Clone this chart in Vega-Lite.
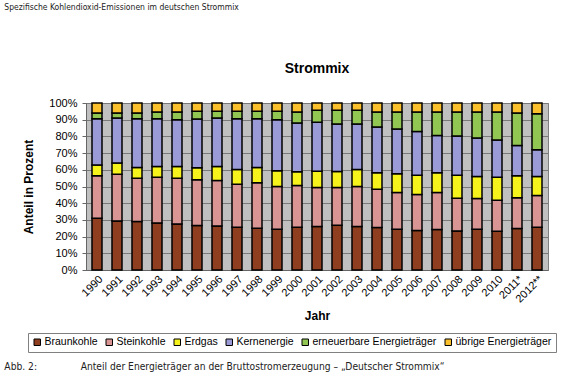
{
  "$schema": "https://vega.github.io/schema/vega-lite/v6.json",
  "background": "white",
  "padding": {"left": 4, "top": 3, "right": 5, "bottom": 4},
  "title": {
    "text": "Spezifische Kohlendioxid-Emissionen im deutschen Strommix",
    "anchor": "start",
    "font": "DejaVu Sans Condensed, sans-serif",
    "fontSize": 8.5,
    "fontWeight": "normal",
    "color": "#222222",
    "dx": 0,
    "offset": 50
  },
  "resolve": {"scale": {"color": "independent"}, "legend": {"color": "independent"}},
  "vconcat": [
    {
      "title": {
        "text": "Abb. 2:\u00a0\u00a0\u00a0\u00a0\u00a0\u00a0\u00a0\u00a0\u00a0\u00a0\u00a0\u00a0\u00a0\u00a0\u00a0Anteil der Energieträger an der Bruttostromerzeugung – „Deutscher Strommix“",
        "orient": "bottom",
        "anchor": "start",
        "font": "DejaVu Sans Condensed, sans-serif",
        "fontSize": 10.2,
        "fontWeight": "normal",
        "color": "#222222",
        "dx": -18,
        "offset": 9
      },
      "resolve": {"scale": {"color": "independent"}, "legend": {"color": "independent"}},
      "vconcat": [
        {
          "title": {
            "text": "Strommix",
            "anchor": "middle",
            "font": "Liberation Sans",
            "fontSize": 14,
            "fontWeight": "bold",
            "color": "black",
            "offset": 21
          },
          "width": 462,
          "height": 167,
          "data": {
            "values": [
              {"Jahr": "1990", "Braunkohle": 31.0, "Steinkohle": 25.4, "Erdgas": 6.4, "Kernenergie": 27.8, "erneuerbare Energieträger": 3.4, "übrige Energieträger": 6.0},
              {"Jahr": "1991", "Braunkohle": 29.4, "Steinkohle": 28.0, "Erdgas": 6.6, "Kernenergie": 27.0, "erneuerbare Energieträger": 3.0, "übrige Energieträger": 6.0},
              {"Jahr": "1992", "Braunkohle": 29.0, "Steinkohle": 26.0, "Erdgas": 6.4, "Kernenergie": 29.2, "erneuerbare Energieträger": 3.4, "übrige Energieträger": 6.0},
              {"Jahr": "1993", "Braunkohle": 28.2, "Steinkohle": 27.4, "Erdgas": 6.4, "Kernenergie": 28.6, "erneuerbare Energieträger": 4.0, "übrige Energieträger": 5.4},
              {"Jahr": "1994", "Braunkohle": 27.6, "Steinkohle": 27.4, "Erdgas": 7.0, "Kernenergie": 28.0, "erneuerbare Energieträger": 4.6, "übrige Energieträger": 5.4},
              {"Jahr": "1995", "Braunkohle": 26.6, "Steinkohle": 27.4, "Erdgas": 7.2, "Kernenergie": 29.2, "erneuerbare Energieträger": 4.6, "übrige Energieträger": 5.0},
              {"Jahr": "1996", "Braunkohle": 26.4, "Steinkohle": 27.2, "Erdgas": 8.4, "Kernenergie": 29.0, "erneuerbare Energieträger": 4.0, "übrige Energieträger": 5.0},
              {"Jahr": "1997", "Braunkohle": 25.6, "Steinkohle": 25.8, "Erdgas": 8.8, "Kernenergie": 30.4, "erneuerbare Energieträger": 4.4, "übrige Energieträger": 5.0},
              {"Jahr": "1998", "Braunkohle": 25.0, "Steinkohle": 27.2, "Erdgas": 9.2, "Kernenergie": 29.2, "erneuerbare Energieträger": 4.4, "übrige Energieträger": 5.0},
              {"Jahr": "1999", "Braunkohle": 24.4, "Steinkohle": 25.6, "Erdgas": 9.4, "Kernenergie": 30.6, "erneuerbare Energieträger": 5.0, "übrige Energieträger": 5.0},
              {"Jahr": "2000", "Braunkohle": 25.6, "Steinkohle": 25.0, "Erdgas": 8.2, "Kernenergie": 29.2, "erneuerbare Energieträger": 6.6, "übrige Energieträger": 5.4},
              {"Jahr": "2001", "Braunkohle": 26.0, "Steinkohle": 23.4, "Erdgas": 9.8, "Kernenergie": 29.2, "erneuerbare Energieträger": 7.2, "übrige Energieträger": 4.4},
              {"Jahr": "2002", "Braunkohle": 26.8, "Steinkohle": 22.6, "Erdgas": 9.6, "Kernenergie": 28.4, "erneuerbare Energieträger": 8.2, "übrige Energieträger": 4.4},
              {"Jahr": "2003", "Braunkohle": 26.0, "Steinkohle": 24.0, "Erdgas": 10.2, "Kernenergie": 27.2, "erneuerbare Energieträger": 8.2, "übrige Energieträger": 4.4},
              {"Jahr": "2004", "Braunkohle": 25.4, "Steinkohle": 23.0, "Erdgas": 9.8, "Kernenergie": 27.4, "erneuerbare Energieträger": 9.0, "übrige Energieträger": 5.4},
              {"Jahr": "2005", "Braunkohle": 24.4, "Steinkohle": 22.0, "Erdgas": 11.2, "Kernenergie": 26.8, "erneuerbare Energieträger": 10.2, "übrige Energieträger": 5.4},
              {"Jahr": "2006", "Braunkohle": 23.6, "Steinkohle": 21.6, "Erdgas": 11.6, "Kernenergie": 26.2, "erneuerbare Energieträger": 11.6, "übrige Energieträger": 5.4},
              {"Jahr": "2007", "Braunkohle": 24.2, "Steinkohle": 22.2, "Erdgas": 11.8, "Kernenergie": 22.4, "erneuerbare Energieträger": 14.0, "übrige Energieträger": 5.4},
              {"Jahr": "2008", "Braunkohle": 23.4, "Steinkohle": 19.6, "Erdgas": 13.8, "Kernenergie": 23.4, "erneuerbare Energieträger": 14.4, "übrige Energieträger": 5.4},
              {"Jahr": "2009", "Braunkohle": 24.4, "Steinkohle": 18.4, "Erdgas": 13.2, "Kernenergie": 23.0, "erneuerbare Energieträger": 15.6, "übrige Energieträger": 5.4},
              {"Jahr": "2010", "Braunkohle": 23.2, "Steinkohle": 18.6, "Erdgas": 13.8, "Kernenergie": 22.2, "erneuerbare Energieträger": 16.8, "übrige Energieträger": 5.4},
              {"Jahr": "2011*", "Braunkohle": 24.8, "Steinkohle": 18.4, "Erdgas": 13.2, "Kernenergie": 18.2, "erneuerbare Energieträger": 19.4, "übrige Energieträger": 6.0},
              {"Jahr": "2012**", "Braunkohle": 25.6, "Steinkohle": 19.0, "Erdgas": 11.4, "Kernenergie": 16.0, "erneuerbare Energieträger": 21.6, "übrige Energieträger": 6.4}
            ]
          },
          "transform": [
            {"fold": ["Braunkohle", "Steinkohle", "Erdgas", "Kernenergie", "erneuerbare Energieträger", "übrige Energieträger"], "as": ["Energietraeger", "Anteil"]},
            {"window": [{"op": "row_number", "as": "Rang"}], "groupby": ["Jahr"]}
          ],
          "mark": {"type": "bar", "stroke": "black", "strokeWidth": 1.5},
          "encoding": {
            "x": {
              "field": "Jahr",
              "type": "ordinal",
              "sort": null,
              "scale": {"paddingInner": 0.5, "paddingOuter": 0.3},
              "axis": {
                "title": "Jahr",
                "labelAngle": -45,
                "labelFontSize": 11,
                "labelColor": "black",
                "labelPadding": 3,
                "titleFontSize": 12,
                "titleFontWeight": "bold",
                "titleColor": "black",
                "titlePadding": 6,
                "domainColor": "#666666",
                "ticks": false,
                "grid": false
              }
            },
            "y": {
              "field": "Anteil",
              "type": "quantitative",
              "stack": "normalize",
              "scale": {"domain": [0, 1], "nice": false},
              "axis": {
                "title": "Anteil in Prozent",
                "values": [0, 0.1, 0.2, 0.3, 0.4, 0.5, 0.6, 0.7, 0.8, 0.9, 1],
                "format": ".0%",
                "labelFontSize": 11,
                "labelColor": "black",
                "labelPadding": 5,
                "tickSize": 4,
                "tickColor": "#666666",
                "domainColor": "#666666",
                "grid": true,
                "gridColor": "#7a7a7a",
                "gridWidth": 1,
                "titleFontSize": 12,
                "titleFontWeight": "bold",
                "titleColor": "black",
                "titlePadding": 13
              }
            },
            "order": {"field": "Rang", "type": "quantitative", "sort": "ascending"},
            "color": {
              "field": "Energietraeger",
              "type": "nominal",
              "scale": {
                "domain": ["Braunkohle", "Steinkohle", "Erdgas", "Kernenergie", "erneuerbare Energieträger", "übrige Energieträger"],
                "range": ["#8f3f1f", "#d99594", "#f5f21c", "#9a9ad6", "#92c653", "#fbc12c"]
              },
              "legend": {
                "title": null,
                "orient": "none",
                "legendX": -58,
                "legendY": 230,
                "direction": "horizontal",
                "gridAlign": "none",
                "symbolType": "square",
                "symbolSize": 42,
                "symbolStrokeColor": "black",
                "symbolStrokeWidth": 1,
                "symbolOpacity": 1,
                "labelFont": "Liberation Sans",
                "labelFontSize": 10.5,
                "labelColor": "black",
                "labelOffset": 2,
                "labelLimit": 300,
                "columnPadding": 6,
                "padding": 4,
                "strokeColor": "#808080"
              }
            }
          }
        }
      ]
    }
  ],
  "config": {
    "font": "Liberation Sans",
    "view": {"fill": "#c0c0c0", "stroke": "#808080", "strokeWidth": 1},
    "concat": {"spacing": 0}
  }
}
